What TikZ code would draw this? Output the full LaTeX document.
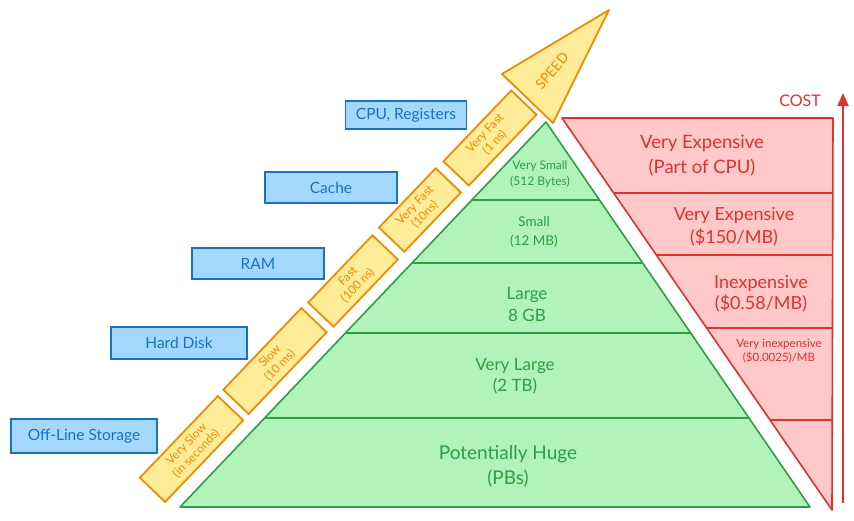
\documentclass[tikz,border=0pt]{standalone}
\usepackage{fontspec}
\setmainfont{Lato}
\usetikzlibrary{calc,arrows.meta}
\definecolor{bluefill}{HTML}{A5D8FF}
\definecolor{bluestroke}{HTML}{1971C2}
\definecolor{yellowfill}{HTML}{FFEC99}
\definecolor{yellowstroke}{HTML}{F08C00}
\definecolor{greenfill}{HTML}{B2F2BB}
\definecolor{greenstroke}{HTML}{2F9E44}
\definecolor{redfill}{HTML}{FFC9C9}
\definecolor{redstroke}{HTML}{E03131}
\newcommand{\fsz}[2]{\fontsize{#1}{#2}\selectfont}
\tikzset{
  memlabel/.style={draw=bluestroke, fill=bluefill, line width=1.5pt, text=bluestroke,
    font=\fsz{15.5}{17}, minimum height=31pt, inner sep=0pt},
  speedbox/.style={draw=yellowstroke, fill=yellowfill, line width=1.8pt, text=yellowstroke,
    rotate=46.3, minimum height=35pt, align=center, font=\fsz{12}{13.5}, inner sep=0pt},
  speedshape/.style={draw=yellowstroke, fill=yellowfill, line width=1.8pt, line join=round},
  pyramid/.style={draw=greenstroke, fill=greenfill, line width=1.6pt, line join=round},
  sizetext/.style={text=greenstroke, align=center, inner sep=1pt},
  costshape/.style={draw=redstroke, fill=redfill, line width=1.6pt, line join=round},
  costtext/.style={text=redstroke, align=center, inner sep=1pt},
}
\begin{document}
\begin{tikzpicture}[x=1pt,y=-1pt]
\useasboundingbox (0,0) rectangle (854,520);
% memory pyramid
\coordinate (gtop) at (546,122);
\coordinate (gbl) at (180,507);
\coordinate (gbr) at (810,507);
\filldraw[pyramid] (gtop) -- (gbl) -- (gbr) -- cycle;
\foreach \t in {0.203,0.366,0.548,0.769}
  \draw[pyramid] ($(gtop)!\t!(gbl)$) -- ($(gtop)!\t!(gbr)$);
\node[sizetext, font=\fsz{12}{16}] (vsmall) at (540,174) {Very Small\\(512 Bytes)};
\node[sizetext, font=\fsz{13.5}{19}] (small) at (534,232) {Small\\(12 MB)};
\node[sizetext, font=\fsz{17}{22}] (large) at (527,304) {Large\\8 GB};
\node[sizetext, font=\fsz{17}{21}] (vlarge) at (515,376) {Very Large\\(2 TB)};
\node[sizetext, font=\fsz{19}{25}] (huge) at (508,466) {Potentially Huge\\(PBs)};
% cost triangle
\coordinate (rtl) at (562,118);
\coordinate (rtr) at (833,118);
\coordinate (rtip) at (832,510);
\filldraw[costshape] (rtl) -- (rtr) -- (rtip) -- cycle;
\foreach \t in {0.191,0.349,0.536,0.770}
  \draw[costshape] ($(rtl)!\t!(rtip)$) -- ($(rtr)!\t!(rtip)$);
\node[costtext, font=\fsz{18.5}{25}] (cpucost) at (702,156) {Very Expensive\\(Part of CPU)};
\node[costtext, font=\fsz{18}{23}] (cachecost) at (734,227) {Very Expensive\\(\$150/MB)};
\node[costtext, font=\fsz{18}{21}] (ramcost) at (761,294) {Inexpensive\\(\$0.58/MB)};
\node[costtext, font=\fsz{11.5}{14}] (hddcost) at (779,351) {Very inexpensive\\(\$0.0025)/MB};
\coordinate (cost0) at (843,503);
\coordinate (cost1) at (843,93);
\draw[redstroke, line width=2pt, -{Triangle[length=13pt,width=11pt]}] (cost0) -- (cost1);
\node[costtext, font=\fsz{16}{18}] (cost) at (800,101) {COST};
% speed arrow
\node[speedbox, minimum width=113pt] (s1) at (191.5,449) {Very Slow\\(in seconds)};
\node[speedbox, minimum width=113pt] (s2) at (275,361) {Slow\\(10 ms)};
\node[speedbox, minimum width=93pt] (s3) at (353,281) {Fast\\(100 ns)};
\node[speedbox, minimum width=82pt] (s4) at (420,210) {Very Fast\\(10ns)};
\node[speedbox, minimum width=98pt] (s5) at (490,138) {Very Fast\\(1 ns)};
\coordinate (h1) at (502,74);
\coordinate (h2) at (553,123);
\coordinate (htip) at (609,10);
\filldraw[speedshape] (h1) -- (htip) -- (h2) -- cycle;
\node[text=yellowstroke, rotate=50, font=\fsz{14}{16}] (speed) at (552,71) {SPEED};
% memory levels
\node[memlabel, minimum width=121pt, minimum height=28pt] (cpu) at (406,115) {CPU, Registers};
\node[memlabel, minimum width=132pt] (cache) at (331,187.5) {Cache};
\node[memlabel, minimum width=132pt] (ram) at (258,263.5) {RAM};
\node[memlabel, minimum width=136pt, minimum height=32pt] (hdd) at (179,343) {Hard Disk};
\node[memlabel, minimum width=146pt, minimum height=34pt] (offline) at (84,436) {Off-Line Storage};
\end{tikzpicture}
\end{document}
